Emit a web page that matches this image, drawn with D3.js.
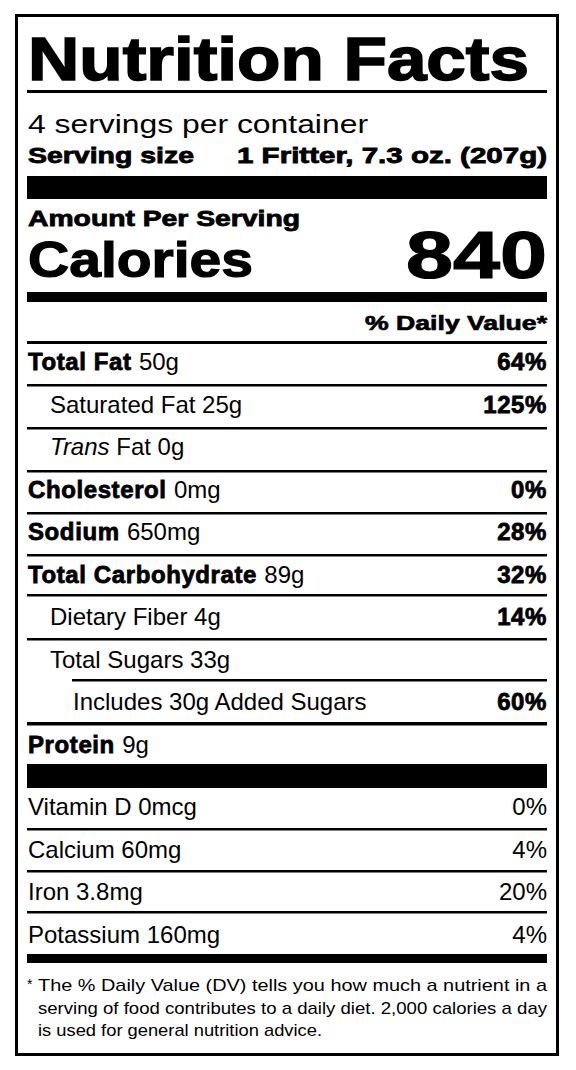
<!DOCTYPE html>
<html><head><meta charset="utf-8">
<script src="https://cdn.jsdelivr.net/npm/d3@7"></script>
<style>body{margin:0;background:#fff}</style></head>
<body><svg id="c" width="576" height="1070"></svg>
<script>
const nutrients = ["Total Fat","Saturated Fat","Trans Fat","Cholesterol","Sodium","Total Carbohydrate","Dietary Fiber","Total Sugars","Includes 30g Added Sugars","Protein"];
const amounts = ["50g","25g","0g","0mg","650mg","89g","4g","33g","","9g"];
const dailyPct = ["64%","125%","","0%","28%","32%","14%","","60%",""];
const levels = [0,1,1,0,0,0,1,1,2,0];
const vitamins = ["Vitamin D 0mcg","Calcium 60mg","Iron 3.8mg","Potassium 160mg"];
const vitaminPct = ["0%","4%","20%","4%"];
const footnote = ["The % Daily Value (DV) tells you how much a nutrient in a","serving of food contributes to a daily diet. 2,000 calories a day","is used for general nutrition advice."];

const svg = d3.select("#c");
const F = "'Liberation Sans', Arial, Helvetica, sans-serif";
const L = 28, R = 547;
svg.append("rect").attr("x",16.5).attr("y",15.5).attr("width",541).attr("height",1039).attr("fill","none").attr("stroke","#000").attr("stroke-width",3);
function rule(y,h,x0){svg.append("rect").attr("x",x0||L-1).attr("y",y).attr("width",R-(x0||L-1)).attr("height",h).attr("fill","#000");}
function txt(x,y,s,size,w,anchor,len){const t=svg.append("text").attr("x",x).attr("y",y).attr("font-family",F).attr("font-size",size).attr("font-weight",w?"bold":"normal").attr("text-anchor",anchor||"start").text(s);
 if(w)t.attr("stroke","#000").attr("stroke-width",w);
 if(len)t.attr("textLength",len).attr("lengthAdjust","spacingAndGlyphs");return t;}

txt(L,80,"Nutrition Facts",62,1.6,"start",501);
rule(90,3);
txt(L,133,"4 servings per container",26,0,"start",340);
txt(L,163,"Serving size",22,0.8,"start",166);
txt(R,163,"1 Fritter, 7.3 oz. (207g)",22,0.8,"end",310);
rule(176,23);
txt(L,226,"Amount Per Serving",22,0.8,"start",272);
txt(L,277,"Calories",50,1.2,"start",225);
txt(R,278,"840",66,1.2,"end",141);
rule(292,10);
txt(R,330,"% Daily Value*",21,0.7,"end",182);
rule(341,3);

const y = d3.scaleLinear().domain([0,9]).range([370,753]);
const ruleY = [384,427,470,512,554,594,638,679,722];
const indentX = d => [L,50,73][d];
const FS = 24;
nutrients.forEach((n,i)=>{
  const t = svg.append("text").attr("x",indentX(levels[i])).attr("y",y(i)).attr("font-family",F).attr("font-size",FS);
  if(levels[i]===0){
    t.append("tspan").attr("font-weight","bold").attr("stroke","#000").attr("stroke-width",0.8).attr("letter-spacing",0.6).text(n+" ");
    t.append("tspan").text(amounts[i]);
  } else if(n==="Trans Fat"){
    t.append("tspan").attr("font-style","italic").text("Trans");
    t.append("tspan").text(" Fat "+amounts[i]);
  } else t.text(n+(amounts[i]?" "+amounts[i]:""));
  if(dailyPct[i]) txt(R,y(i),dailyPct[i],FS,0.8,"end").attr("letter-spacing",0.6);
  if(i<ruleY.length){
    const th = i===8?3.5:2.5;
    rule(ruleY[i],th, i===7?72:null);
  }
});
rule(764,24);
const yv = d3.scaleLinear().domain([0,3]).range([815,943]);
const vRule=[828,870,911];
vitamins.forEach((v,i)=>{
  txt(L,yv(i),v,FS,0);
  txt(R,yv(i),vitaminPct[i],FS,0,"end");
  if(i<3) rule(vRule[i],2.5);
});
rule(954,9);
txt(27,989,"*",14,0);
const yf = d3.scaleLinear().domain([0,2]).range([991,1036]);
footnote.forEach((s,i)=>{
  txt(38,yf(i),s,17,0,"start", i<2?509:284);
});
</script></body></html>
